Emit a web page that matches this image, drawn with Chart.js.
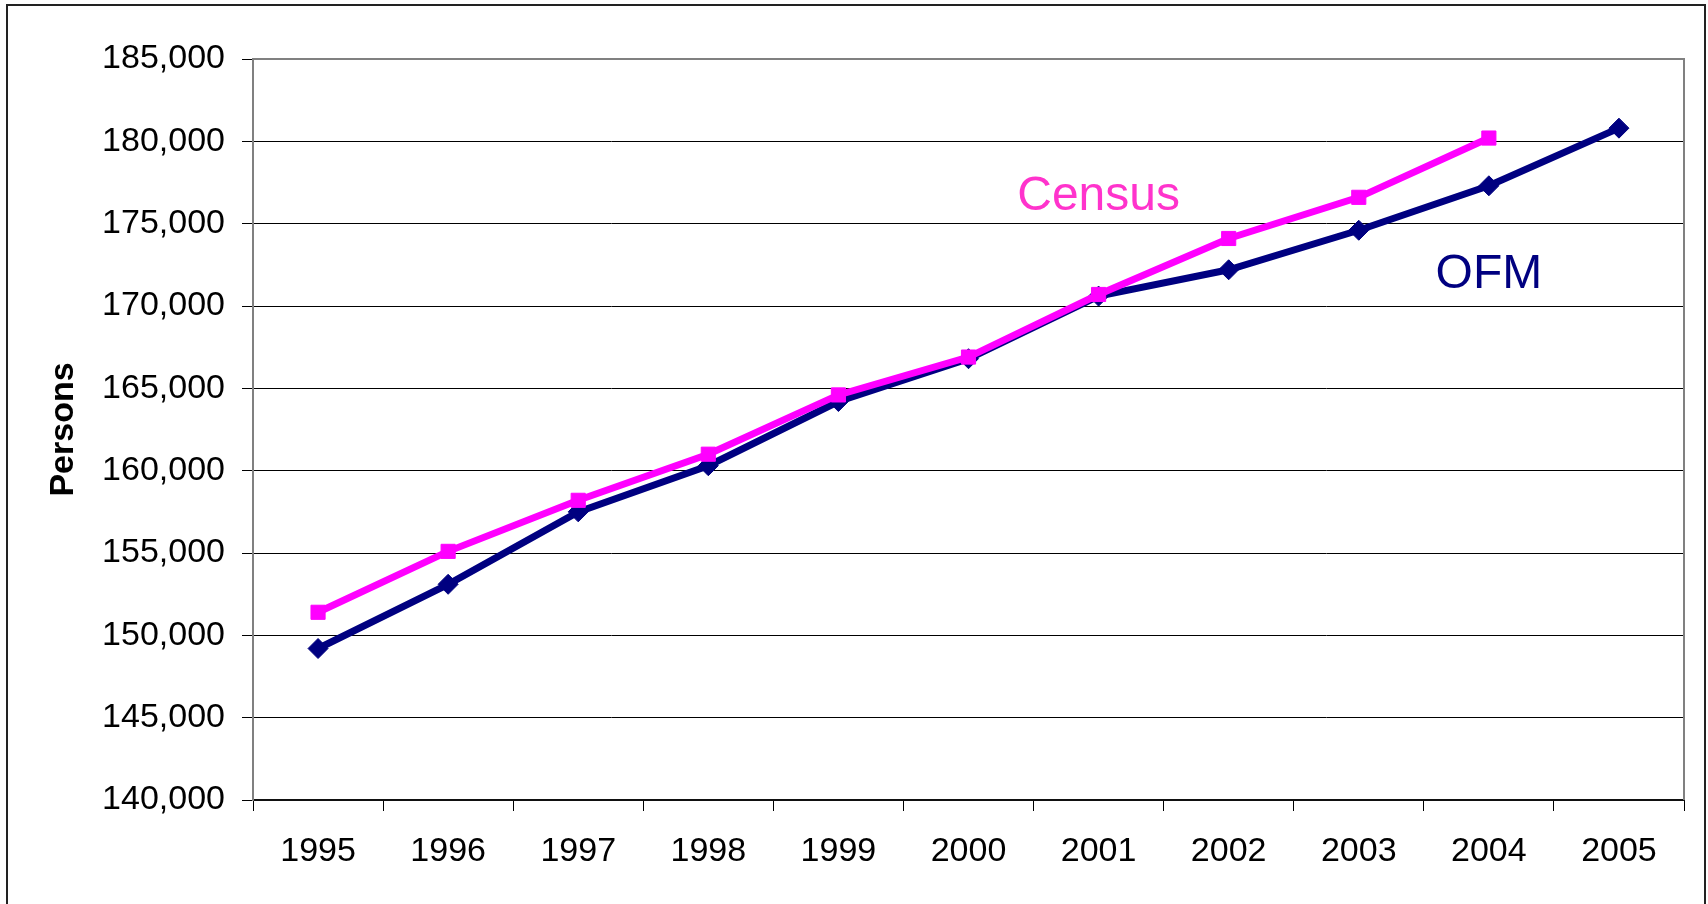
<!DOCTYPE html>
<html>
<head>
<meta charset="utf-8">
<script src="https://cdn.jsdelivr.net/npm/chart.js@4/dist/chart.umd.min.js"></script>
<style>
  html, body { margin: 0; padding: 0; background: #fff; overflow: hidden; }
  #wrap { position: relative; width: 1708px; height: 904px; }
  #frame { position: absolute; left: 6px; top: 4px; width: 1700px; height: 1000px;
           box-sizing: border-box; border: 2px solid #222; pointer-events: none; }
</style>
</head>
<body>
<div id="wrap">
  <canvas id="popChart" width="1708" height="904"></canvas>
  <div id="frame"></div>
</div>
<script>
// data
const years = ['1995', '1996', '1997', '1998', '1999', '2000', '2001', '2002', '2003', '2004', '2005'];
const censusValues = [151400, 155100, 158200, 161000, 164600, 166900, 170700, 174100, 176600, 180200];
const ofmValues = [149200, 153100, 157500, 160300, 164200, 166800, 170600, 172200, 174600, 177300, 180800];
const yTicks = { min: 140000, max: 185000, step: 5000 };

// series name labels placed in data space (category, value)
const seriesLabels = [
    { text: 'Census', year: '2001', value: 175850, color: '#FF33CC' },
    { text: 'OFM', year: '2004', value: 171100, color: '#000080' }
];

const FONT = "'Liberation Sans', Arial, sans-serif";

const plotFrame = {
    id: 'plotFrame',
    beforeDatasetsDraw(chart) {
        const a = chart.chartArea;
        const ctx = chart.ctx;
        ctx.save();
        ctx.strokeStyle = '#808080';
        ctx.lineWidth = 2;
        ctx.beginPath();
        ctx.moveTo(a.left, a.bottom);
        ctx.lineTo(a.left, a.top);
        ctx.lineTo(a.right, a.top);
        ctx.lineTo(a.right, a.bottom);
        ctx.stroke();
        ctx.restore();
    }
};

const nameLabels = {
    id: 'nameLabels',
    afterDatasetsDraw(chart) {
        const ctx = chart.ctx;
        const xs = chart.scales.x, ys = chart.scales.y;
        ctx.save();
        ctx.font = '48px ' + FONT;
        ctx.textAlign = 'center';
        ctx.textBaseline = 'alphabetic';
        seriesLabels.forEach(l => {
            ctx.fillStyle = l.color;
            ctx.fillText(l.text, xs.getPixelForValue(years.indexOf(l.year)), ys.getPixelForValue(l.value));
        });
        ctx.restore();
    }
};

function createPopulationChart() {
    const ctx = document.getElementById('popChart');
    if (!ctx) return;

    new Chart(ctx, {
        type: 'line',
        data: {
            labels: years,
            datasets: [{
                label: 'Census',
                data: censusValues,
                borderColor: '#FF00FF',
                backgroundColor: '#FF00FF',
                borderWidth: 7,
                tension: 0,
                pointStyle: 'rect',
                pointRadius: 10,
                pointBorderWidth: 1
            }, {
                label: 'OFM',
                data: ofmValues,
                borderColor: '#000080',
                backgroundColor: '#000080',
                borderWidth: 7,
                tension: 0,
                pointStyle: 'rectRot',
                pointRadius: 10,
                pointBorderWidth: 1
            }]
        },
        options: {
            responsive: false,
            animation: false,
            layout: { padding: { left: 43, top: 59, right: 24, bottom: 0 } },
            plugins: {
                legend: { display: false },
                tooltip: { enabled: false }
            },
            scales: {
                x: {
                    offset: true,
                    grid: {
                        offset: true,
                        drawOnChartArea: false,
                        tickLength: 11,
                        color: '#000',
                        lineWidth: 1
                    },
                    border: { color: '#111', width: 2 },
                    ticks: {
                        color: '#000',
                        padding: 20,
                        maxRotation: 0,
                        font: { size: 34, family: FONT }
                    },
                    afterFit(scale) { scale.height = 104; }
                },
                y: {
                    min: yTicks.min,
                    max: yTicks.max,
                    grid: {
                        color: '#000',
                        lineWidth: 1,
                        tickLength: 11
                    },
                    border: { color: '#808080', width: 2 },
                    ticks: {
                        stepSize: yTicks.step,
                        color: '#000',
                        padding: 17,
                        font: { size: 34, family: FONT },
                        callback: v => v.toLocaleString('en-US')
                    },
                    title: {
                        display: true,
                        text: 'Persons',
                        color: '#000',
                        padding: 0,
                        font: { size: 34, weight: 'bold', family: FONT }
                    },
                    afterFit(scale) { scale.width = 210; }
                }
            }
        },
        plugins: [plotFrame, nameLabels]
    });
}

document.addEventListener('DOMContentLoaded', () => {
    createPopulationChart();
});
</script>
</body>
</html>
